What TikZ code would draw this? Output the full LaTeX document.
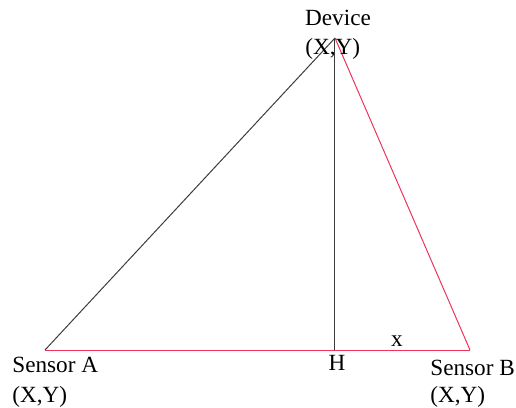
\documentclass[tikz,border=0pt]{standalone}
\usepackage{fontspec}
\setmainfont{Liberation Serif}
\definecolor{redline}{RGB}{238,52,92}
\definecolor{darkline}{RGB}{60,60,60}
\begin{document}
\begin{tikzpicture}[x=0.5pt,y=-0.5pt,
  lbl/.style={inner sep=0pt,font=\fontsize{11.6}{14}\selectfont},
  blk/.style={draw=darkline,line width=0.5pt},
  red/.style={draw=redline,line width=0.5pt}]
\useasboundingbox (0,0) rectangle (516,408);
\coordinate (D) at (335,38);
\coordinate (A) at (45,350);
\coordinate (B) at (470,350);
\coordinate (H) at (335,350);
\draw[red] (A) -- (B);
\draw[red] (D) -- (B);
\draw[blk] (A) -- (D);
\draw[blk] (D) -- (H);
\node[lbl,anchor=base] (dev) at (338,25) {Device};
\node[lbl,anchor=base west] (devxy) at (305,54) {(X,Y)};
\node[lbl,anchor=base west] (sa) at (12,372) {Sensor A};
\node[lbl,anchor=base west] (saxy) at (12,402) {(X,Y)};
\node[lbl,anchor=base west] (sb) at (430,375) {Sensor B};
\node[lbl,anchor=base west] (sbxy) at (430,402) {(X,Y)};
\node[lbl,anchor=base] (h) at (337,370) {H};
\node[lbl,anchor=base] (x) at (397,346) {x};
\end{tikzpicture}
\end{document}
